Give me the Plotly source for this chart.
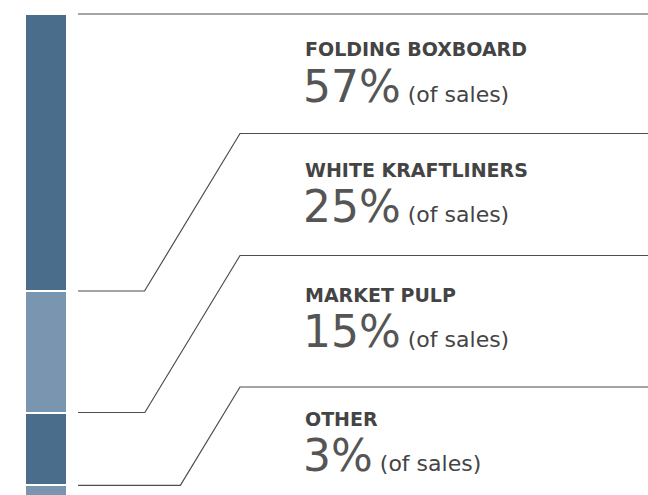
import plotly.graph_objects as go

# ---- data ----
categories = ["FOLDING BOXBOARD", "WHITE KRAFTLINERS", "MARKET PULP", "OTHER"]
shares = [57, 25, 15, 3]
suffix = "(of sales)"
bar_colors = ["#4a6d8c", "#7a95b0", "#4a6d8c", "#7a95b0"]

# ---- layout constants (pixels of the 648x495 page) ----
W, H = 648, 495
TOP_PX = 14.0          # where 0% sits
PX_PER_PCT = 4.86      # vertical scale
label_sep_px = [133.5, 255.5, 387.0]   # label-row separators (right side)
title_mid_px = [49.0, 170.0, 295.0, 419.0]
number_mid_px = [86.5, 206.5, 331.5, 455.5]
LINE_COLOR = "#4d4d4d"
TEXT_COLOR = "#444444"

def px_to_pct(py):
    return (py - TOP_PX) / PX_PER_PCT

fig = go.Figure()

# stacked single bar
for cat, val, col in zip(categories, shares, bar_colors):
    fig.add_trace(go.Bar(
        x=[46], y=[val], width=[42], name=cat,
        marker=dict(color=col, line=dict(color="white", width=2)),
        hoverinfo="skip", showlegend=False,
    ))

# connector lines: from bar boundaries to label separators
cum = []
s = 0
for v in shares:
    cum.append(s)
    s += v
slope = 1.65
x_start, x_knee_top, x_end = 78, 240, W
fig.add_trace(go.Scatter(x=[x_start, x_end], y=[cum[0], cum[0]], mode="lines",
                         line=dict(color=LINE_COLOR, width=1.2), hoverinfo="skip", showlegend=False))
for i in range(1, len(shares)):
    yb = cum[i]
    yb_px = TOP_PX + yb * PX_PER_PCT
    yt_px = label_sep_px[i - 1]
    x_knee_bot = x_knee_top - (yb_px - yt_px) / slope
    fig.add_trace(go.Scatter(
        x=[x_start, x_knee_bot, x_knee_top, x_end],
        y=[yb, yb, px_to_pct(yt_px), px_to_pct(yt_px)],
        mode="lines", line=dict(color=LINE_COLOR, width=1.2),
        hoverinfo="skip", showlegend=False))

# labels
for i, (cat, val) in enumerate(zip(categories, shares)):
    fig.add_annotation(x=303, y=px_to_pct(title_mid_px[i]), xref="x", yref="y",
                       text=f"<b>{cat}</b>", showarrow=False, xanchor="left", yanchor="middle",
                       font=dict(family="DejaVu Sans", size=19, color=TEXT_COLOR))
    fig.add_annotation(x=301, y=px_to_pct(number_mid_px[i]), xref="x", yref="y",
                       text=f"{val}%<span style='font-size:22px;fill:#444444'> {suffix}</span>",
                       showarrow=False, xanchor="left", yanchor="middle",
                       font=dict(family="DejaVu Sans", size=44, color="#555555"))

fig.update_layout(
    width=W, height=H, margin=dict(l=0, r=0, t=0, b=0),
    barmode="stack", bargap=0,
    paper_bgcolor="white", plot_bgcolor="white",
    xaxis=dict(range=[0, W], visible=False, fixedrange=True),
    yaxis=dict(range=[px_to_pct(H), px_to_pct(0)], visible=False, fixedrange=True),
)

fig.write_html("out.html", config={"displayModeBar": False},
               post_script="document.body.style.margin='0';")
